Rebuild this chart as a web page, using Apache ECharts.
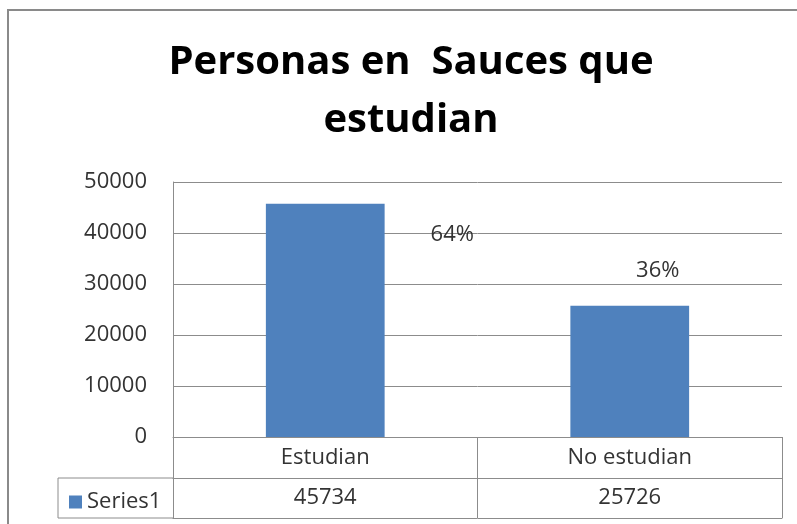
<!DOCTYPE html>
<html>
<head>
<meta charset="utf-8">
<script src="https://cdn.jsdelivr.net/npm/echarts@6/dist/echarts.min.js"></script>
<style>
  html, body { margin: 0; padding: 0; background: #fff; }
  #chart { width: 797px; height: 524px; }
</style>
</head>
<body>
<div id="chart"></div>
<script>
// datos del grafico
const categories = ["Estudian", "No estudian"];
const values = [45734, 25726];
const percents = ["64%", "36%"];
const seriesName = "Series1";

const gridColor = "#8c8c8c";
const textColor = "#333";
const font = "'Open Sans', Lato, sans-serif";

const chart = echarts.init(document.getElementById("chart"));

// offsets de las etiquetas de porcentaje (movidas a mano como en el original)
const labelOffsets = [[127, 47], [28, -19]];

chart.setOption({
  animation: false,
  title: {
    text: "Personas en  Sauces que\nestudian",
    left: 406,
    textAlign: "center",
    top: 29,
    textStyle: {
      fontFamily: font,
      fontWeight: "bold",
      fontSize: 40,
      lineHeight: 58,
      color: "#000"
    }
  },
  legend: {
    left: 64,
    top: 486,
    itemWidth: 13,
    itemHeight: 13,
    icon: "rect",
    data: [seriesName],
    textStyle: { fontFamily: font, fontSize: 22, color: textColor }
  },
  grid: {
    left: 173,
    right: 15,
    top: 182,
    bottom: 87
  },
  xAxis: [
    {
      type: "category",
      data: categories,
      axisLine: { show: true, lineStyle: { color: gridColor } },
      axisTick: { show: true, alignWithLabel: false, length: 81, lineStyle: { color: gridColor } },
      axisLabel: { margin: 10, fontFamily: font, fontSize: 22, color: textColor }
    },
    {
      type: "category",
      data: categories,
      position: "bottom",
      offset: 41,
      axisLine: { show: true, lineStyle: { color: gridColor } },
      axisTick: { show: false },
      axisLabel: {
        margin: 9,
        fontFamily: font,
        fontSize: 22,
        color: textColor,
        formatter: (v, i) => String(values[i])
      }
    },
    {
      type: "category",
      data: categories,
      position: "bottom",
      offset: 81,
      axisLine: { show: true, lineStyle: { color: gridColor } },
      axisTick: { show: false },
      axisLabel: { show: false }
    }
  ],
  yAxis: {
    type: "value",
    min: 0,
    max: 50000,
    interval: 10000,
    axisLine: { show: true, lineStyle: { color: gridColor } },
    axisTick: { show: false },
    splitLine: { lineStyle: { color: gridColor } },
    axisLabel: {
      margin: 26,
      fontFamily: font,
      fontSize: 22,
      color: textColor,
      formatter: v => String(v)
    }
  },
  series: [
    {
      name: seriesName,
      type: "bar",
      barWidth: "39%",
      itemStyle: { color: "#4F81BD" },
      label: {
        show: true,
        position: "top",
        distance: 5,
        fontFamily: font,
        fontSize: 22,
        color: textColor,
        formatter: p => percents[p.dataIndex]
      },
      data: values.map((v, i) => ({ value: v, label: { offset: labelOffsets[i] } }))
    }
  ],
  graphic: [
    // borde del area del grafico
    { type: "rect", shape: { x: 8, y: 10, width: 800, height: 530 }, style: { fill: null, stroke: "#8a8a8a", lineWidth: 2 }, silent: true },
    // celda de la leyenda en la tabla
    { type: "polyline", shape: { points: [[173, 478], [58, 478], [58, 518], [173, 518]] }, style: { fill: null, stroke: gridColor, lineWidth: 1 }, silent: true }
  ]
});
</script>
</body>
</html>
